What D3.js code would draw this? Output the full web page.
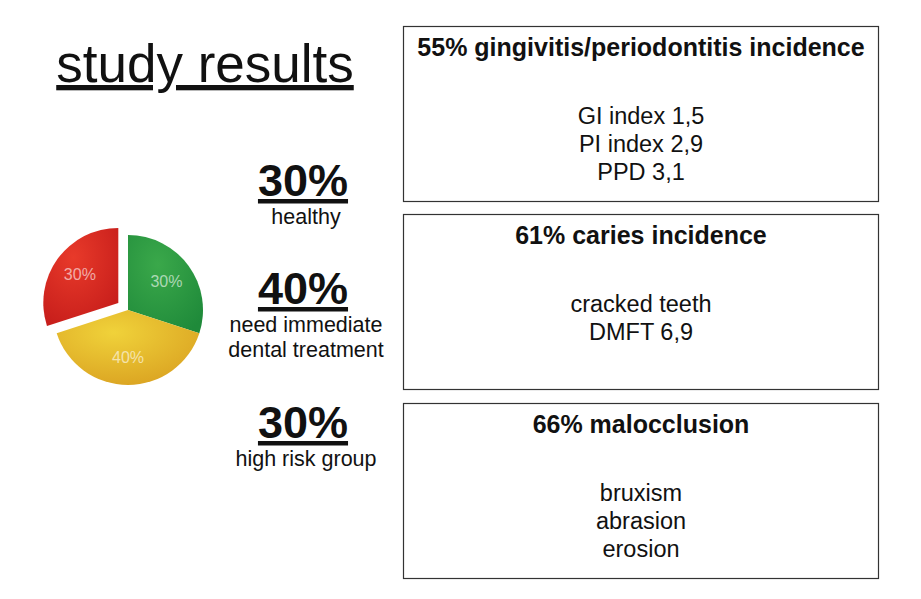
<!DOCTYPE html>
<html><head><meta charset="utf-8">
<script src="https://cdn.jsdelivr.net/npm/d3@7"></script>
<style>body{margin:0;background:#fff}text{font-family:"Liberation Sans",Arial,sans-serif}</style>
</head><body>
<script>
const sliceLabels = ["30%", "40%", "30%"];
const sliceValues = [30, 40, 30];
const sliceColors = [["#3aa84a", "#1f8a3a"], ["#f0d23a", "#d9a020"], ["#e83a2a", "#c51c1a"]];
const groupPct = ["30%", "40%", "30%"];
const groupDesc = [["healthy"], ["need immediate", "dental treatment"], ["high risk group"]];
const boxTitles = ["55% gingivitis/periodontitis incidence", "61% caries incidence", "66% malocclusion"];
const boxLines = [["GI index 1,5", "PI index 2,9", "PPD 3,1"], ["cracked teeth", "DMFT 6,9"], ["bruxism", "abrasion", "erosion"]];

const svg = d3.select("body").append("svg").attr("width", 921).attr("height", 599);
const defs = svg.append("defs");
sliceColors.forEach((c, i) => {
  const g = defs.append("radialGradient").attr("id", "g" + i).attr("cx", "40%").attr("cy", "30%").attr("r", "80%");
  g.append("stop").attr("offset", "0%").attr("stop-color", c[0]);
  g.append("stop").attr("offset", "100%").attr("stop-color", c[1]);
});

svg.append("text").attr("x", 205).attr("y", 82).attr("text-anchor", "middle")
  .attr("font-size", 53).attr("fill", "#111").attr("text-decoration", "underline").text("study results");

// pie
const pie = d3.pie().sort(null)(sliceValues);
const arc = d3.arc().innerRadius(0).outerRadius(75);
const pg = svg.append("g").attr("transform", "translate(128,310)");
pie.forEach((d, i) => {
  const off = i === 2 ? 12 : 0;
  const a = (d.startAngle + d.endAngle) / 2;
  const g = pg.append("g").attr("transform", `translate(${Math.sin(a) * off},${-Math.cos(a) * off})`);
  g.append("path").attr("d", arc(d)).attr("fill", `url(#g${i})`);
  const c = d3.arc().innerRadius(0).outerRadius(95).centroid(d);
  g.append("text").attr("x", c[0]).attr("y", c[1] + 5).attr("text-anchor", "middle")
    .attr("font-size", 16).attr("fill", "rgba(255,255,255,0.6)").text(sliceLabels[i]);
});

// group labels
const gy = [196, 304, 438];
groupPct.forEach((p, i) => {
  svg.append("text").attr("x", 303).attr("y", gy[i]).attr("text-anchor", "middle")
    .attr("font-size", 45).attr("font-weight", "bold").attr("fill", "#111")
    .attr("text-decoration", "underline").text(p);
  groupDesc[i].forEach((t, j) => {
    svg.append("text").attr("x", 306).attr("y", gy[i] + 28 + j * 25).attr("text-anchor", "middle")
      .attr("font-size", 21.5).attr("fill", "#111").text(t);
  });
});

// boxes
const by = [26, 214, 403];
boxTitles.forEach((t, i) => {
  svg.append("rect").attr("x", 403.5).attr("y", by[i] + 0.5).attr("width", 475).attr("height", 175)
    .attr("fill", "none").attr("stroke", "#333").attr("stroke-width", 1.2);
  svg.append("text").attr("x", 641).attr("y", by[i] + 30).attr("text-anchor", "middle")
    .attr("font-size", 25).attr("font-weight", "bold").attr("fill", "#111").text(t);
  boxLines[i].forEach((l, j) => {
    svg.append("text").attr("x", 641).attr("y", by[i] + 98 + j * 28).attr("text-anchor", "middle")
      .attr("font-size", 23.5).attr("fill", "#111").text(l);
  });
});
</script>
</body></html>
